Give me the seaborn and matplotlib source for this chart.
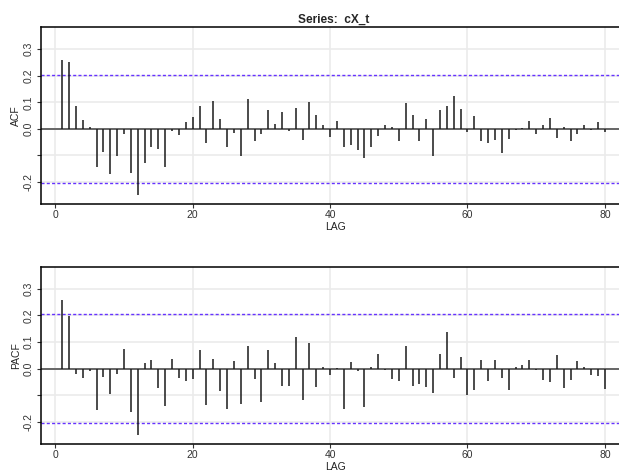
import numpy as np
import pandas as pd
import matplotlib
matplotlib.use("Agg")
import matplotlib.pyplot as plt
import seaborn as sns

# Sample ACF / PACF of cX_t, lags 1..80
lags = list(range(1, 81))
acf_vals = [
    0.259, 0.252, 0.086, 0.033, 0.008, -0.143, -0.089, -0.171, -0.103, -0.021,
    -0.166, -0.249, -0.128, -0.070, -0.075, -0.143, -0.008, -0.023, 0.025, 0.044,
    0.086, -0.053, 0.103, 0.036, -0.068, -0.015, -0.101, 0.114, -0.048, -0.020,
    0.070, 0.018, 0.064, -0.009, 0.078, -0.042, 0.102, 0.052, 0.015, -0.031,
    0.029, -0.069, -0.063, -0.082, -0.109, -0.068, -0.029, 0.014, 0.006, -0.045,
    0.097, 0.053, -0.045, 0.036, -0.103, 0.070, 0.086, 0.125, 0.075, -0.014,
    0.048, -0.045, -0.054, -0.043, -0.091, -0.038, -0.006, 0.003, 0.029, -0.021,
    0.014, 0.042, -0.033, 0.005, -0.045, -0.020, 0.013, -0.005, 0.026, -0.013,
]
pacf_vals = [
    0.258, 0.196, -0.021, -0.034, -0.008, -0.156, -0.030, -0.094, -0.019, 0.075,
    -0.161, -0.250, 0.022, 0.032, -0.071, -0.139, 0.037, -0.034, -0.045, -0.040,
    0.072, -0.137, 0.037, -0.082, -0.151, 0.030, -0.131, 0.084, -0.037, -0.125,
    0.070, 0.021, -0.065, -0.064, 0.117, -0.116, 0.097, -0.070, 0.006, -0.022,
    0.002, -0.150, 0.024, -0.008, -0.143, 0.006, 0.055, -0.005, -0.039, -0.046,
    0.085, -0.064, -0.059, -0.068, -0.091, 0.055, 0.138, -0.033, 0.043, -0.099,
    -0.080, 0.032, -0.045, 0.034, -0.033, -0.078, 0.008, 0.013, 0.034, -0.004,
    -0.041, -0.051, 0.050, -0.071, -0.044, 0.028, 0.006, -0.022, -0.026, -0.075,
]
conf_bound = 0.204
title = "Series:  cX_t"

df = pd.DataFrame({"LAG": lags, "ACF": acf_vals, "PACF": pacf_vals})

sns.set_theme(style="white", rc={"xtick.bottom": True, "ytick.left": True})
plt.rcParams["font.family"] = ["Liberation Sans", "DejaVu Sans"]

W, H = 619, 475
fig = plt.figure(figsize=(W / 100, H / 100), dpi=100)

def px_axes(left, top, right, bottom):
    return fig.add_axes([left / W, 1 - bottom / H, (right - left) / W, (bottom - top) / H])

# the plotting region runs off the right edge of the canvas
RIGHT_PX = 630.0
X0_PX, PX_PER_LAG = 55.3, 6.87
xlim = ((40.7 - X0_PX) / PX_PER_LAG, (RIGHT_PX - X0_PX) / PX_PER_LAG)

panels = [
    ("ACF", px_axes(40.7, 27.3, RIGHT_PX, 204.0), (-0.284, 0.383)),
    ("PACF", px_axes(40.7, 267.3, RIGHT_PX, 444.0), (-0.282, 0.380)),
]

for name, ax, ylim in panels:
    ax.set_facecolor("white")
    ax.set_xlim(*xlim)
    ax.set_ylim(*ylim)
    # grid
    for gx in [0, 20, 40, 60, 80]:
        ax.axvline(gx, color="#ebebeb", lw=1.2, zorder=0)
    for gy in [-0.2, -0.1, 0.0, 0.1, 0.2, 0.3]:
        ax.axhline(gy, color="#ebebeb", lw=1.2, zorder=0)
    # confidence bounds
    for b in (conf_bound, -conf_bound):
        ax.axhline(b, color="#6633ff", lw=1.0, ls=(0, (2.2, 1.6)), zorder=1)
    # zero line
    ax.axhline(0, color="#666666", lw=1.4, zorder=2)
    # bars
    ax.vlines(df["LAG"], 0, df[name], color="#1a1a1a", lw=1.1, zorder=3)

    ax.set_xticks([0, 20, 40, 60, 80])
    ax.set_xticklabels(["0", "20", "40", "60", "80"])
    ax.set_yticks([-0.2, -0.1, 0.0, 0.1, 0.2, 0.3])
    ax.set_yticklabels(["-0.2", "", "0.0", "0.1", "0.2", "0.3"], rotation=90, va="center")
    ax.tick_params(axis="both", which="both", direction="out", length=3, width=0.8,
                   color="#333333", labelsize=7.5, labelcolor="#333333", pad=1.5,
                   bottom=True, left=True, right=False, top=False)
    ax.tick_params(axis="y", pad=2)
    for s in ["left", "top", "bottom"]:
        ax.spines[s].set_visible(True)
        ax.spines[s].set_color("black")
        ax.spines[s].set_linewidth(1.1)
    ax.spines["right"].set_visible(False)
    ax.set_ylabel(name, fontsize=7.5, labelpad=2, color="#222222")
    ax.xaxis.set_label_coords(((330.7 - 40.7) / (RIGHT_PX - 40.7)), -0.1)
    ax.set_xlabel("LAG", fontsize=7.5, labelpad=0, color="#222222")

panels[0][1].set_title(title, fontsize=8.6, fontweight="bold", pad=3,
                       x=(334 - 40.7) / (RIGHT_PX - 40.7))

fig.savefig("out.png", dpi=100)
